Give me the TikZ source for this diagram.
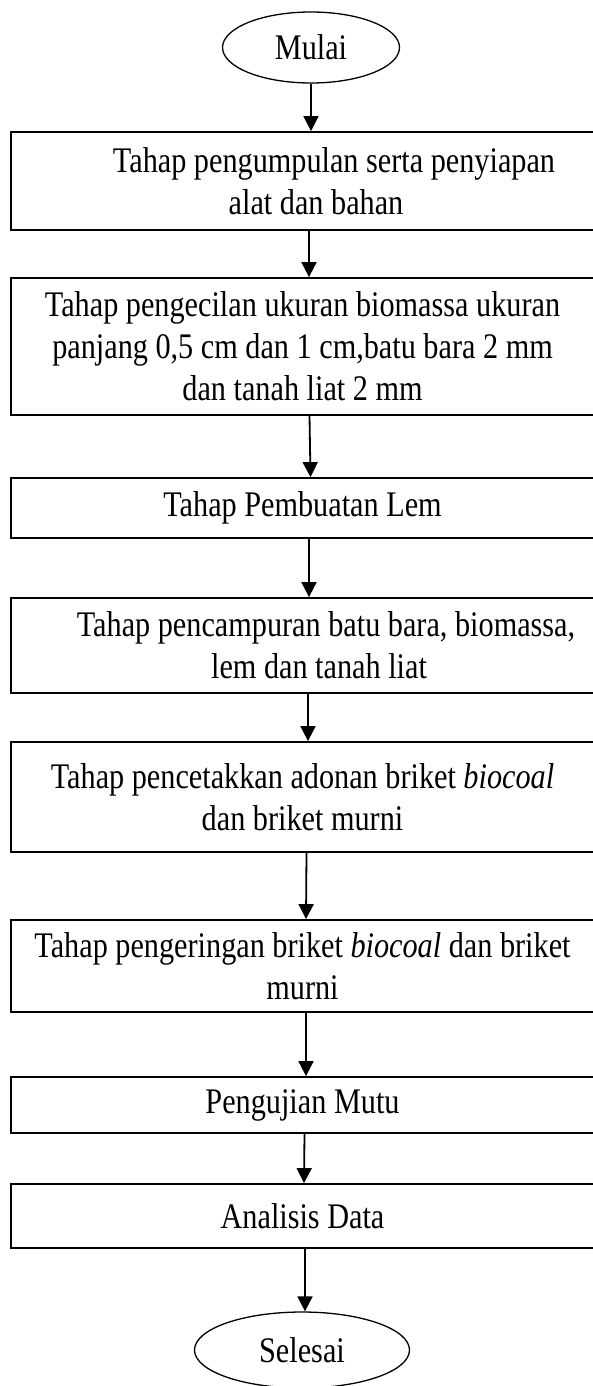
\documentclass[tikz,border=0pt]{standalone}
\usepackage{fontspec}
\setmainfont{Liberation Serif}[FakeStretch=0.84]
\usetikzlibrary{arrows.meta,shapes.geometric}
\begin{document}
\begin{tikzpicture}[x=1pt,y=-1pt,
  every node/.style={font=\fontsize{36}{42}\selectfont},
  procbox/.style={draw, line width=1.8pt, minimum width=583pt, inner sep=0pt, align=center},
  terminal/.style={draw, ellipse, line width=1.3pt, inner sep=0pt},
  arr/.style={line width=1.8pt, -{Triangle[length=15pt,width=15pt]}}]
\useasboundingbox (0,0) rectangle (592,1386);
\node[terminal, minimum width=177pt, minimum height=71pt] (m) at (311,47.5) {Mulai};
\node[procbox, minimum height=98pt] (b1) at (302.5,181) {\hspace*{63pt}Tahap pengumpulan serta penyiapan\\\hspace*{27pt}alat dan bahan};
\node[procbox, minimum height=137pt] (b2) at (302.5,346.5) {Tahap pengecilan ukuran biomassa ukuran\\panjang 0,5 cm dan 1 cm,batu bara 2 mm\\dan tanah liat 2 mm};
\node[procbox, minimum height=60pt] (b3) at (302.5,508) {Tahap Pembuatan Lem};
\node[procbox, minimum height=95pt] (b4) at (302.5,645.5) {\hspace*{47pt}Tahap pencampuran batu bara, biomassa,\\\hspace*{33pt}lem dan tanah liat};
\node[procbox, minimum height=110pt] (b5) at (302.5,797) {Tahap pencetakkan adonan briket \textit{biocoal}\\dan briket murni};
\node[procbox, minimum height=92pt] (b6) at (302.5,966) {Tahap pengeringan briket \textit{biocoal} dan briket\\murni};
\node[procbox, minimum height=56pt] (b7) at (302.5,1105) {Pengujian Mutu};
\node[procbox, minimum height=64pt] (b8) at (302.5,1216) {Analisis Data};
\node[terminal, minimum width=215pt, minimum height=76pt] (s) at (302,1350) {Selesai};
\draw[arr] (m.south) -- ([xshift=8.5pt]b1.north);
\draw[arr] ([xshift=6.5pt]b1.south) -- ([xshift=6.5pt]b2.north);
\draw[arr] ([xshift=7pt]b2.south) -- ([xshift=8pt]b3.north);
\draw[arr] ([xshift=6.5pt]b3.south) -- ([xshift=6.5pt]b4.north);
\draw[arr] ([xshift=5.5pt]b4.south) -- ([xshift=5.5pt]b5.north);
\draw[arr] ([xshift=4pt]b5.south) -- ([xshift=3.5pt]b6.north);
\draw[arr] ([xshift=3.5pt]b6.south) -- ([xshift=3.5pt]b7.north);
\draw[arr] ([xshift=2pt]b7.south) -- ([xshift=1.5pt]b8.north);
\draw[arr] ([xshift=2.5pt]b8.south) -- ([xshift=3pt]s.north);
\end{tikzpicture}
\end{document}
